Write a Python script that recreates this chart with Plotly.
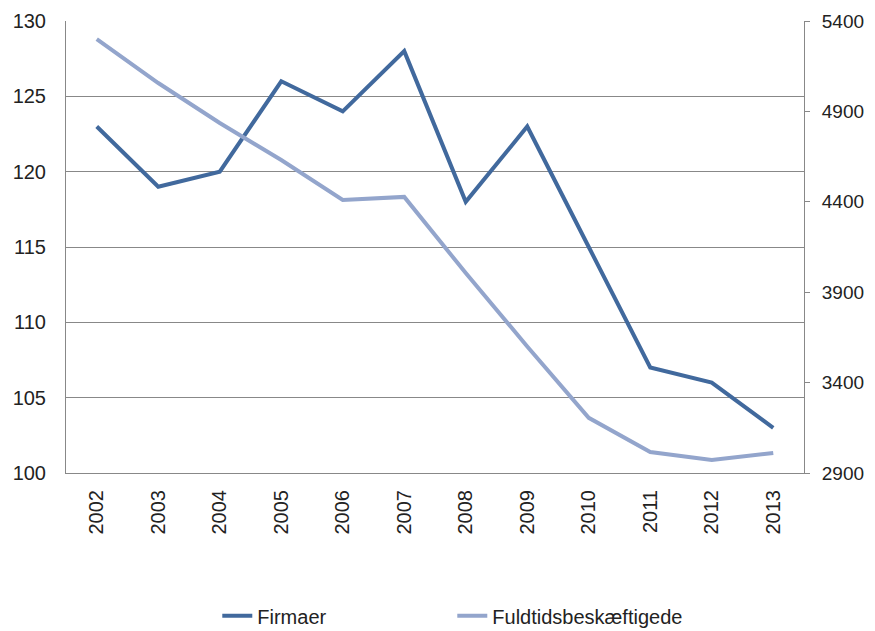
import plotly.graph_objects as go

years = ["2002", "2003", "2004", "2005", "2006", "2007", "2008", "2009", "2010", "2011", "2012", "2013"]
firmaer = [123, 119, 120, 126, 124, 128, 118, 123, 115, 107, 106, 103]
fuldtid = [5300, 5057, 4836, 4631, 4410, 4427, 4006, 3600, 3205, 3016, 2972, 3011]

left_ticks = [100, 105, 110, 115, 120, 125, 130]
right_ticks = [2900, 3400, 3900, 4400, 4900, 5400]

fig = go.Figure()
fig.add_trace(go.Scatter(x=years, y=firmaer, name="Firmaer", mode="lines",
                         line=dict(color="#41699d", width=4)))
fig.add_trace(go.Scatter(x=years, y=fuldtid, name="Fuldtidsbeskæftigede", mode="lines",
                         line=dict(color="#93a5cc", width=4), yaxis="y2"))

font = dict(family="Liberation Sans, Arial, sans-serif", size=20, color="#222222")
fig.update_layout(
    width=867, height=623,
    margin=dict(l=58, r=71, t=13, b=158, autoexpand=False),
    paper_bgcolor="white", plot_bgcolor="white",
    font=font,
    showlegend=True,
    legend=dict(orientation="h", x=0.205, xanchor="left", y=-0.316, yanchor="middle",
                font=dict(size=20), entrywidth=190, tracegroupgap=0),
    xaxis=dict(type="category", range=[-0.5, 11.5], tickangle=-90,
               showline=True, linecolor="#888888", linewidth=1,
               showgrid=False, ticks="", tickfont=dict(size=20),
               ticklabelstandoff=8, automargin=False),
    yaxis=dict(range=[100, 130], tickvals=left_ticks, showgrid=True,
               gridcolor="#888888", gridwidth=1, showline=True, linecolor="#888888",
               linewidth=1, ticks="", zeroline=False, tickfont=dict(size=20),
               ticklabelstandoff=15, automargin=False),
    yaxis2=dict(range=[2900, 5400], tickvals=right_ticks, overlaying="y", side="right",
                showgrid=False, showline=True, linecolor="#888888", linewidth=1,
                ticks="outside", ticklen=5, tickcolor="#888888", zeroline=False,
                tickfont=dict(size=19), ticklabelstandoff=8, automargin=False),
)
fig.write_html("out.html")
